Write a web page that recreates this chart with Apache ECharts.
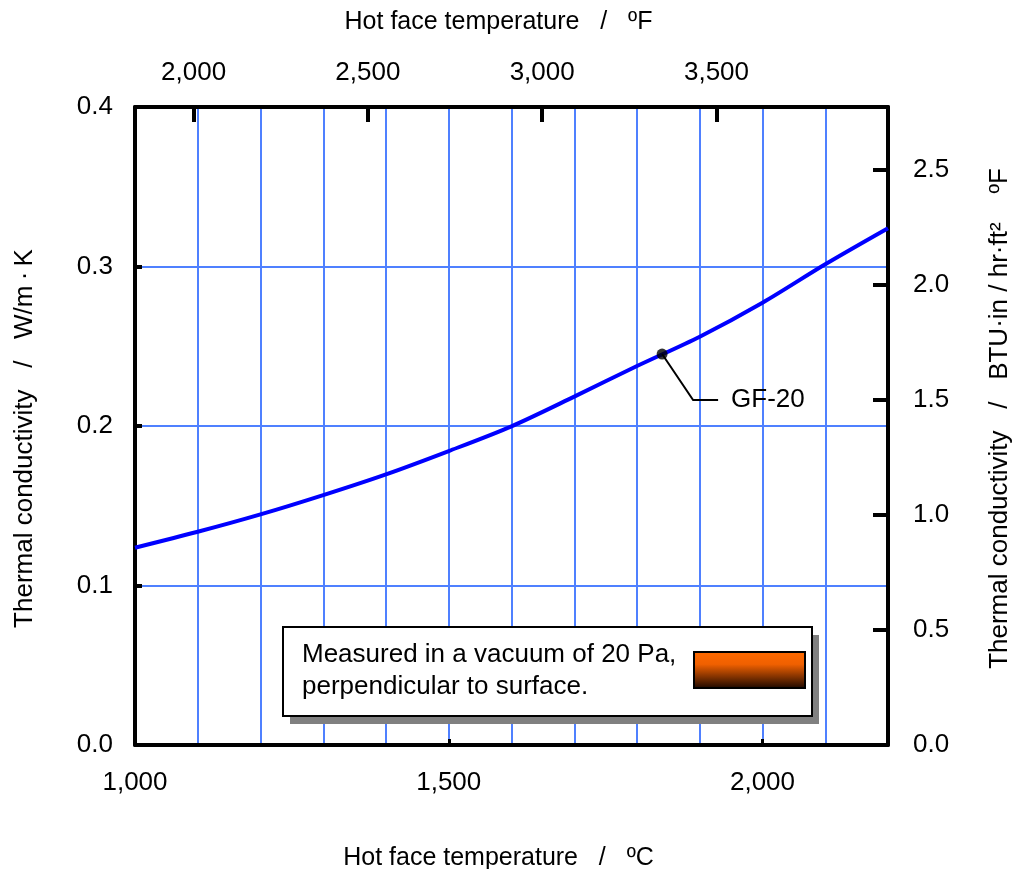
<!DOCTYPE html>
<html>
<head>
<meta charset="utf-8">
<script src="https://cdn.jsdelivr.net/npm/echarts@6/dist/echarts.min.js"></script>
<style>html,body{margin:0;padding:0;background:#fff;}#c{width:1021px;height:869px;}</style>
</head>
<body>
<div id="c"></div>
<script>
// ---- data ----
const tempC = [1000, 1100, 1200, 1300, 1400, 1500, 1600, 1700, 1800, 1900, 2000, 2100, 2200];
const kWmK = [0.1237, 0.1337, 0.1446, 0.1567, 0.1697, 0.1843, 0.1998, 0.2184, 0.2376, 0.2560, 0.2773, 0.3014, 0.3240];
const fTicks = [2000, 2500, 3000, 3500];
const btuTicks = [0, 0.5, 1.0, 1.5, 2.0, 2.5];
const gfPoint = [1840, 0.2451];
const gfLabel = 'GF-20';
const noteLines = ['Measured in a vacuum of 20 Pa,', 'perpendicular to surface.'];

const cMin = 1000, cMax = 2200, kMin = 0, kMax = 0.4;
const toF = c => c * 1.8 + 32;
const W_TO_BTU = 6.93347;

const FONT = 'Liberation Sans, Arial, sans-serif';
const GRID_BLUE = '#4f80ff';
const comma = v => Math.round(v).toLocaleString('en-US');

const chart = echarts.init(document.getElementById('c'));
const lbl = (extra) => Object.assign({color: '#000', fontSize: 26, fontFamily: FONT}, extra);
const nameStyle = (size, pad) => ({color: '#000', fontSize: size, fontFamily: FONT, padding: pad});
const blackLine = {show: true, onZero: false, lineStyle: {color: '#000', width: 4}};

chart.setOption({
  animation: false,
  backgroundColor: '#fff',
  grid: {left: 135, right: 133, top: 107, bottom: 124, containLabel: false, outerBoundsMode: 'none'},
  xAxis: [
    { // bottom °C
      type: 'value', position: 'bottom', min: cMin, max: cMax, interval: 500, z: 3,
      axisLine: blackLine,
      axisTick: {show: true, inside: true, length: 6, lineStyle: {color: '#000', width: 3}},
      axisLabel: lbl({margin: 25, formatter: comma, showMaxLabel: false}),
      splitLine: {show: false},
      name: 'Hot face temperature   /   ºC', nameLocation: 'middle', nameGap: 101,
      nameTextStyle: nameStyle(25, [0, 26, 0, 0])
    },
    { // top °F
      type: 'value', position: 'top', min: toF(cMin), max: toF(cMax), z: 3,
      axisLine: blackLine,
      axisTick: {show: true, inside: true, length: 15, lineStyle: {color: '#000', width: 4}, customValues: fTicks},
      axisLabel: lbl({margin: 21, formatter: comma, customValues: fTicks}),
      splitLine: {show: false},
      name: 'Hot face temperature   /   ºF', nameLocation: 'middle', nameGap: 72,
      nameTextStyle: nameStyle(25, [0, 26, 0, 0])
    },
    { // vertical grid lines
      type: 'value', position: 'bottom', min: cMin, max: cMax, interval: 100, z: 0,
      axisLine: {show: false, onZero: false}, axisTick: {show: false}, axisLabel: {show: false},
      splitLine: {show: true, lineStyle: {color: GRID_BLUE, width: 2}}
    }
  ],
  yAxis: [
    { // left W/m·K
      type: 'value', position: 'left', min: kMin, max: kMax, interval: 0.1, z: 3,
      axisLine: blackLine,
      axisTick: {show: true, inside: true, length: 7, lineStyle: {color: '#000', width: 4}},
      axisLabel: lbl({margin: 22, formatter: v => v.toFixed(1)}),
      splitLine: {show: false},
      name: 'Thermal conductivity   /   W/m\u2009·\u2009K', nameLocation: 'middle', nameGap: 97,
      nameTextStyle: nameStyle(26, [0, 25, 0, 0])
    },
    { // right BTU
      type: 'value', position: 'right', min: kMin * W_TO_BTU, max: kMax * W_TO_BTU, z: 3,
      axisLine: blackLine,
      axisTick: {show: true, inside: true, length: 15, lineStyle: {color: '#000', width: 4}, customValues: btuTicks},
      axisLabel: lbl({margin: 25, formatter: v => v.toFixed(1), customValues: btuTicks}),
      splitLine: {show: false},
      name: 'Thermal conductivity   /   BTU·in / hr·ft²    ºF', nameLocation: 'middle', nameGap: 99,
      nameTextStyle: nameStyle(26, [0, 0, 0, 15])
    },
    { // horizontal grid lines
      type: 'value', position: 'left', min: kMin, max: kMax, interval: 0.1, z: 0,
      axisLine: {show: false, onZero: false}, axisTick: {show: false}, axisLabel: {show: false},
      splitLine: {show: true, lineStyle: {color: GRID_BLUE, width: 2}}
    }
  ],
  series: [
    {
      type: 'line', xAxisIndex: 0, yAxisIndex: 0, smooth: 0.3, showSymbol: false, z: 4,
      lineStyle: {color: '#0000ff', width: 4},
      data: tempC.map((c, i) => [c, kWmK[i]])
    },
    {
      type: 'scatter', xAxisIndex: 0, yAxisIndex: 0, z: 6, symbolSize: 11,
      itemStyle: {color: '#000'},
      data: [gfPoint]
    }
  ]
});

// annotation and note box
const p = chart.convertToPixel({xAxisIndex: 0, yAxisIndex: 0}, gfPoint);
const bx = 283, by = 627, bw = 529, bh = 89;
chart.setOption({
  graphic: [
    {type: 'polyline', z: 5, shape: {points: [p, [p[0] + 31, p[1] + 46], [p[0] + 56, p[1] + 46]]},
     style: {stroke: '#000', lineWidth: 2, fill: null}},
    {type: 'text', z: 5, x: p[0] + 69, y: p[1] + 46,
     style: {text: gfLabel, fill: '#000', font: '26px ' + FONT, verticalAlign: 'middle', align: 'left'}},
    {type: 'rect', z: 10, shape: {x: bx + 7, y: by + 8, width: bw, height: bh}, style: {fill: '#808080'}},
    {type: 'rect', z: 11, shape: {x: bx, y: by, width: bw, height: bh}, style: {fill: '#fff', stroke: '#000', lineWidth: 2}},
    {type: 'text', z: 12, x: bx + 19, y: by + 28,
     style: {text: noteLines[0], fill: '#000', font: '26px ' + FONT, verticalAlign: 'middle'}},
    {type: 'text', z: 12, x: bx + 19, y: by + 60,
     style: {text: noteLines[1], fill: '#000', font: '26px ' + FONT, verticalAlign: 'middle'}},
    {type: 'rect', z: 12, shape: {x: bx + 411, y: by + 25, width: 111, height: 36},
     style: {stroke: '#000', lineWidth: 2,
       fill: new echarts.graphic.LinearGradient(0, 0, 0, 1, [
         {offset: 0, color: '#ff6a00'}, {offset: 0.35, color: '#f06000'}, {offset: 1, color: '#180600'}])}}
  ]
});
</script>
</body>
</html>
